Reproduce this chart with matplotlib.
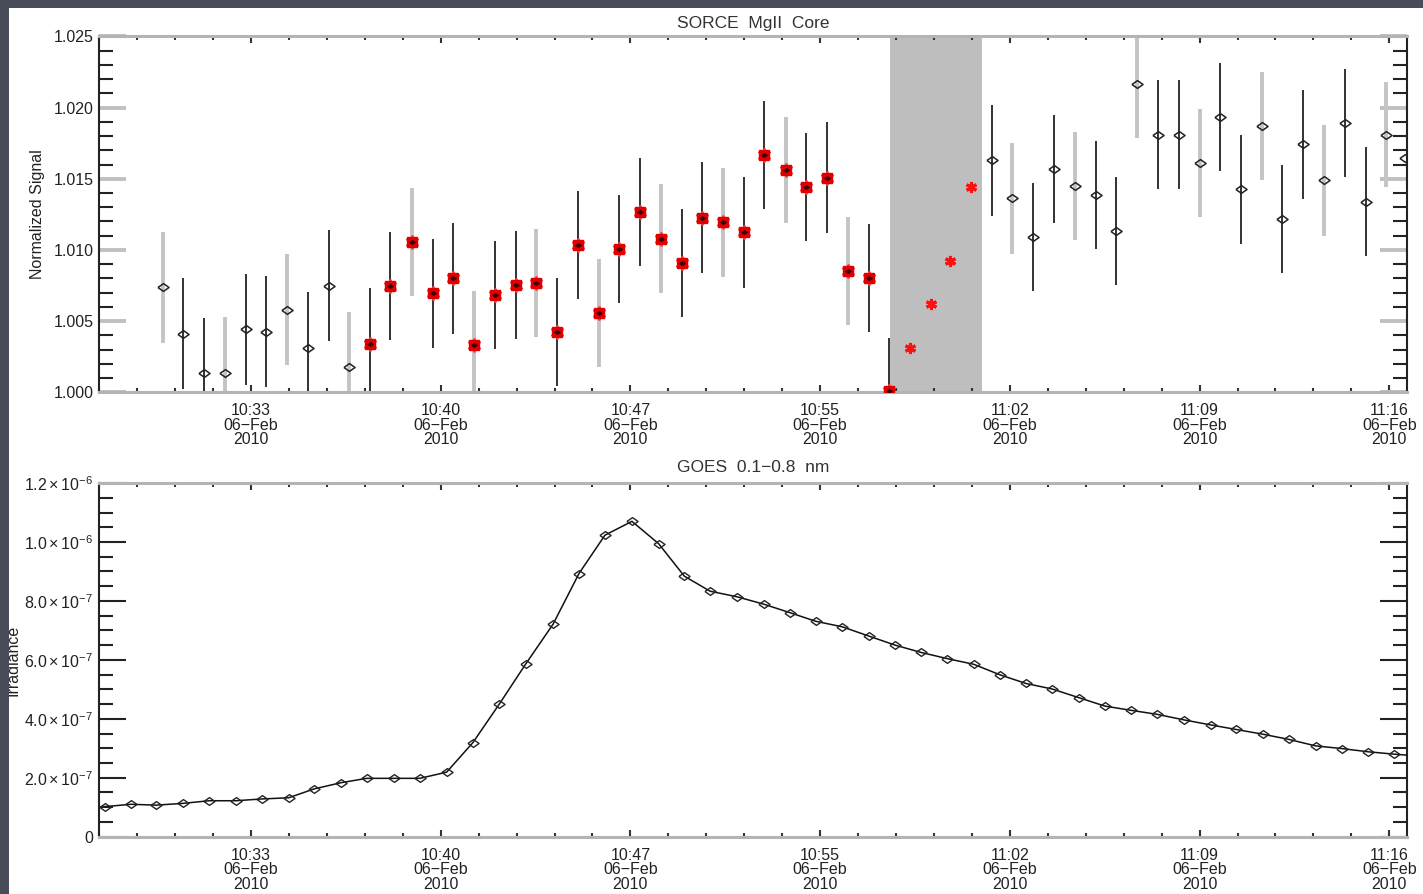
import matplotlib.pyplot as plt
from matplotlib.patches import Rectangle
from matplotlib.ticker import FixedLocator

plt.rcParams['font.family'] = ['Liberation Sans', 'DejaVu Sans']
plt.rcParams['mathtext.fontset'] = 'custom'
plt.rcParams['mathtext.rm'] = 'Liberation Sans'
plt.rcParams['mathtext.it'] = 'Liberation Sans'

# time axis: minutes after 10:00 UT, 06-Feb-2010
x_range = (27.26, 76.67)
tick_times = [33.0, 40.1667, 47.3333, 54.5, 61.6667, 68.8333, 76.0]
tick_labels = ['10:33', '10:40', '10:47', '10:55', '11:02', '11:09', '11:16']
minor_step = 1.4333

# SORCE MgII core, normalized signal
mg_time = [29.66, 30.44, 31.21, 32.02, 32.80, 33.56, 34.36, 35.14, 35.96, 36.71,
           37.51, 38.25, 39.07, 39.87, 40.62, 41.41, 42.22, 43.00, 43.78, 44.56,
           45.34, 46.14, 46.91, 47.70, 48.48, 49.27, 50.05, 50.83, 51.63, 52.39,
           53.20, 53.98, 54.75, 55.54, 56.35, 57.10,
           60.98, 61.76, 62.55, 63.33, 64.13, 64.91, 65.68, 66.46, 67.25, 68.05,
           68.83, 69.62, 70.39, 71.18, 71.96, 72.74, 73.54, 74.33, 75.11, 75.89,
           76.60]
mg_signal = [1.00739, 1.00411, 1.00133, 1.00137, 1.00444, 1.00426, 1.00580, 1.00313, 1.00749, 1.00175,
             1.00341, 1.00749, 1.01053, 1.00694, 1.00800, 1.00332, 1.00683, 1.00753, 1.00770, 1.00425,
             1.01034, 1.00559, 1.01006, 1.01268, 1.01080, 1.00905, 1.01226, 1.01193, 1.01123, 1.01664,
             1.01561, 1.01444, 1.01507, 1.00854, 1.00800, 1.00011,
             1.01631, 1.01362, 1.01092, 1.01570, 1.01449, 1.01384, 1.01133, 1.02163, 1.01811, 1.01811,
             1.01613, 1.01936, 1.01425, 1.01872, 1.01217, 1.01741, 1.01488, 1.01893, 1.01340, 1.01811,
             1.01647]
mg_err = [0.0039, 0.0039, 0.0039, 0.0039, 0.0039, 0.0039, 0.0039, 0.0039, 0.0039, 0.0039,
          0.0039, 0.0038, 0.0038, 0.0038, 0.0039, 0.0038, 0.0038, 0.0038, 0.0038, 0.0038,
          0.0038, 0.0038, 0.0038, 0.0038, 0.0038, 0.0038, 0.0039, 0.0038, 0.0039, 0.0038,
          0.0037, 0.0038, 0.0039, 0.0038, 0.0038, 0.0037,
          0.0039, 0.0039, 0.0038, 0.0038, 0.0038, 0.0038, 0.0038, 0.0038, 0.0038, 0.0038,
          0.0038, 0.0038, 0.0038, 0.0038, 0.0038, 0.0038, 0.0039, 0.0038, 0.0038, 0.0037,
          0.0]
mg_gray_bar = [1, 0, 0, 1, 0, 0, 1, 0, 0, 1,
               0, 0, 1, 0, 0, 1, 0, 0, 1, 0,
               0, 1, 0, 0, 1, 0, 0, 1, 0, 0,
               1, 0, 0, 1, 0, 0,
               0, 1, 0, 0, 1, 0, 0, 1, 0, 0,
               1, 0, 0, 1, 0, 0, 1, 0, 0, 1,
               0]
mg_flare = [0, 0, 0, 0, 0, 0, 0, 0, 0, 0,
            1, 1, 1, 1, 1, 1, 1, 1, 1, 1,
            1, 1, 1, 1, 1, 1, 1, 1, 1, 1,
            1, 1, 1, 1, 1, 1,
            0, 0, 0, 0, 0, 0, 0, 0, 0, 0,
            0, 0, 0, 0, 0, 0, 0, 0, 0, 0,
            0]

# points inside the shaded interval
gap_time = [57.89, 58.68, 59.41, 60.20]
gap_signal = [1.00308, 1.00620, 1.00924, 1.01444]
gap_span = (57.15, 60.61)

# GOES 0.1-0.8 nm irradiance (units of 1e-7)
goes_time = [27.48, 28.47, 29.41, 30.42, 31.42, 32.43, 33.40, 34.42, 35.38, 36.39,
             37.37, 38.40, 39.38, 40.39, 41.38, 42.38, 43.37, 44.41, 45.39, 46.37,
             47.39, 48.40, 49.37, 50.34, 51.36, 52.37, 53.36, 54.33, 55.34, 56.33,
             57.33, 58.32, 59.31, 60.30, 61.30, 62.27, 63.27, 64.26, 65.26, 66.23,
             67.24, 68.26, 69.27, 70.20, 71.21, 72.21, 73.22, 74.21, 75.21, 76.19,
             77.19]
goes_flux = [1.02, 1.10, 1.07, 1.13, 1.22, 1.22, 1.28, 1.32, 1.62, 1.83,
             1.98, 1.98, 1.98, 2.19, 3.19, 4.50, 5.85, 7.21, 8.93, 10.23,
             10.70, 9.94, 8.84, 8.33, 8.14, 7.89, 7.60, 7.31, 7.12, 6.81,
             6.50, 6.25, 6.04, 5.85, 5.49, 5.20, 5.01, 4.72, 4.43, 4.29,
             4.15, 3.96, 3.79, 3.64, 3.48, 3.30, 3.08, 2.99, 2.88, 2.80,
             2.73]
goes_yticks = [0, 2e-7, 4e-7, 6e-7, 8e-7, 1.0e-6, 1.2e-6]
goes_ylabels = ['0', r'$2.0\times10^{-7}$', r'$4.0\times10^{-7}$', r'$6.0\times10^{-7}$',
                r'$8.0\times10^{-7}$', r'$1.0\times10^{-6}$', r'$1.2\times10^{-6}$']

diamond = [(-1, 0), (0, 0.7), (1, 0), (0, -0.7), (-1, 0)]
asterisk = (6, 2, 0)
text_color = '#222222'

fig = plt.figure(figsize=(14.23, 8.94), dpi=100, facecolor='white')
ax1 = fig.add_axes([0.0696, 0.5613, 0.9192, 0.3979])
ax2 = fig.add_axes([0.0696, 0.0641, 0.9192, 0.3956])


def style_axis(ax, major_color, major_width):
    ax.set_xlim(*x_range)
    ax.set_xticks(tick_times)
    ax.set_xticklabels([t + '\n06\u2212Feb\n2010' for t in tick_labels],
                       fontsize=11.5, color=text_color, linespacing=0.95)
    minor = [tick_times[0] + k * minor_step for k in range(-4, 31)]
    ax.xaxis.set_minor_locator(FixedLocator([m for m in minor if x_range[0] < m < x_range[1]]))
    ax.tick_params(axis='x', which='major', direction='in', length=5, width=1.5,
                   color='#333333', top=True, bottom=True, pad=8)
    ax.tick_params(axis='x', which='minor', direction='in', length=3, width=1.5,
                   color='#333333', top=True, bottom=True)
    ax.tick_params(axis='y', which='major', direction='in', length=19.5, width=major_width,
                   color=major_color, left=True, right=True, labelsize=11.5,
                   labelcolor=text_color, pad=4)
    ax.tick_params(axis='y', which='minor', direction='in', length=10, width=1.5,
                   color='#222222', left=True, right=True)
    for side in ['top', 'bottom']:
        ax.spines[side].set_color('#b4b4b4')
        ax.spines[side].set_linewidth(2.2)
    for side in ['left', 'right']:
        ax.spines[side].set_color('#222222')
        ax.spines[side].set_linewidth(1.5)


# ---- top panel: SORCE MgII core
ax1.axvspan(*gap_span, color='#bebebe', zorder=0.5, lw=0)
for gray, col, lw in [(1, '#c4c4c4', 2.8), (0, '#222222', 1.3)]:
    sel = [i for i in range(len(mg_time)) if mg_gray_bar[i] == gray]
    ax1.errorbar([mg_time[i] for i in sel], [mg_signal[i] for i in sel],
                 yerr=[mg_err[i] for i in sel], fmt='none', ecolor=col,
                 elinewidth=lw, capsize=0, zorder=2)
fl = [i for i in range(len(mg_time)) if mg_flare[i]]
quiet = [i for i in range(len(mg_time)) if not mg_flare[i]]
ax1.plot([mg_time[i] for i in fl], [mg_signal[i] for i in fl], ls='none',
         marker=asterisk, ms=10, mec='#ff4040', mew=1.4, zorder=3)
ax1.plot([mg_time[i] for i in fl], [mg_signal[i] for i in fl], ls='none',
         marker='s', ms=7, mfc='#e00000', mec='#e00000', zorder=3)
ax1.plot([mg_time[i] for i in fl], [mg_signal[i] for i in fl], ls='none',
         marker=diamond, ms=4, mfc='#400000', mec='#400000', mew=0.8, zorder=4)
ax1.plot([mg_time[i] for i in quiet], [mg_signal[i] for i in quiet], ls='none',
         marker=diamond, ms=8, mfc='none', mec='#222222', mew=1.1, zorder=4)
ax1.plot(gap_time, gap_signal, ls='none', marker=asterisk, ms=8, mec='#ff1010',
         mew=2.2, zorder=3)
ax1.set_ylim(1.000, 1.025)
ax1.set_yticks([1.000, 1.005, 1.010, 1.015, 1.020, 1.025])
ax1.set_yticklabels(['1.000', '1.005', '1.010', '1.015', '1.020', '1.025'])
ax1.yaxis.set_minor_locator(FixedLocator([1.000 + 0.001 * k for k in range(26)]))
style_axis(ax1, '#c0c0c0', 2.8)
ax1.set_title('SORCE  MgII  Core', fontsize=12.5, color='#333333', pad=6)
ax1.set_ylabel('Normalized Signal', fontsize=11.5, color=text_color, labelpad=6)

# ---- bottom panel: GOES
ax2.plot(goes_time, [v * 1e-7 for v in goes_flux], color='#111111', lw=1.1,
         marker=diamond, ms=8, mfc='none', mec='#222222', mew=1.0, zorder=3)
ax2.set_ylim(0, 1.2e-6)
ax2.set_yticks(goes_yticks)
ax2.set_yticklabels(goes_ylabels)
ax2.yaxis.set_minor_locator(FixedLocator([k * 5e-8 for k in range(25)]))
style_axis(ax2, '#222222', 1.5)
ax2.set_title('GOES  0.1\u22120.8  nm', fontsize=12.5, color='#333333', pad=8)
fig.text(13 / 1423, 1 - 660 / 894, 'Irradiance', rotation=90, ha='center', va='center',
         fontsize=11.5, color=text_color)

# dark frame on the left and top edges
fig.add_artist(Rectangle((0, 0), 9 / 1423, 1, transform=fig.transFigure,
                         color='#474c58', zorder=20, lw=0))
fig.add_artist(Rectangle((0, 1 - 8 / 894), 1, 8 / 894, transform=fig.transFigure,
                         color='#474c58', zorder=20, lw=0))

fig.savefig('out.png', dpi=100, facecolor=fig.get_facecolor())
